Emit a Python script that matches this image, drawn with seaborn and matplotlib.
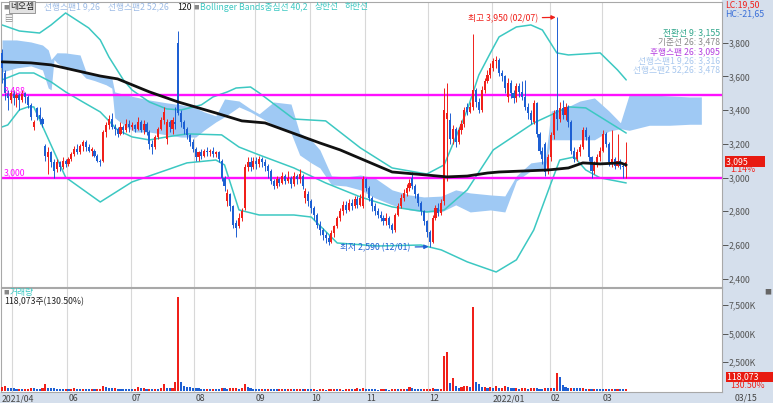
import numpy as np
import pandas as pd
import matplotlib
matplotlib.use("Agg")
import matplotlib.pyplot as plt
import matplotlib.transforms as mtrans
from matplotlib.patches import Rectangle
import seaborn as sns

### daily candles 2021/04/27 .. 2022/03/15 (one row per month)
opens = [3740, 3620, 3500, 3460,
         3500, 3470, 3490, 3460, 3500, 3480, 3430, 3300, 3410, 3370, 3350, 3190, 3120, 3150, 3090, 3050, 3090, 3060, 3100,
         3080, 3110, 3140, 3170, 3150, 3190, 3210, 3180, 3160, 3160, 3130, 3100, 3100, 3270, 3310, 3350, 3300, 3290, 3260, 3300, 3280, 3320,
         3300, 3310, 3290, 3330, 3280, 3320, 3270, 3200, 3180, 3240, 3290, 3340, 3230, 3330, 3290, 3330, 3800, 3380, 3330, 3290, 3250, 3210,
         3170, 3120, 3150, 3130, 3160, 3150, 3160, 3140, 3150, 3100, 3000, 2860, 2900, 2830, 2730, 2710, 2760, 2820, 3060, 3090, 3060,
         3100, 3080, 3110, 3090, 3070, 3040, 2980, 2950, 2990, 2970, 3010, 2980, 3000, 2960, 3010, 2990, 3010, 2880, 2900,
         2860, 2820, 2780, 2720, 2690, 2660, 2640, 2620, 2670, 2710, 2760, 2800, 2840, 2810, 2850, 2830, 2870, 2840, 2830,
         2990, 2940, 2880, 2830, 2800, 2780, 2760, 2740, 2760, 2720, 2690, 2780, 2830, 2880, 2910, 2940, 3000, 2950, 2900, 2850, 2800, 2740,
         2680, 2620, 2760, 2820, 2790, 2860, 3350, 3340, 3230, 3290, 3210, 3280, 3320, 3420, 3390, 3420, 3520, 3450, 3400, 3520, 3570, 3610,
         3650, 3690, 3700, 3620, 3600, 3480, 3560, 3500, 3470, 3540, 3510, 3480, 3420, 3380, 3330, 3440, 3260, 3160, 3200, 3040,
         3120, 3250, 3400, 3350, 3410, 3370, 3420, 3330, 3160, 3110, 3150, 3180, 3280, 3240, 3120, 3040, 3080, 3120,
         3160, 3260, 3200, 3080, 3110, 3070, 3100, 3070, 3060]
closes = [3650, 3500, 3470, 3500,
          3470, 3490, 3460, 3500, 3480, 3430, 3360, 3330, 3360, 3350, 3320, 3130, 3150, 3090, 3040, 3090, 3060, 3100, 3080,
          3110, 3140, 3170, 3150, 3190, 3210, 3180, 3160, 3170, 3130, 3100, 3090, 3270, 3310, 3350, 3300, 3290, 3260, 3300, 3280, 3320, 3300,
          3310, 3290, 3330, 3280, 3320, 3270, 3200, 3180, 3240, 3290, 3340, 3390, 3330, 3300, 3340, 3320, 3380, 3330, 3290, 3250, 3210, 3170,
          3120, 3150, 3130, 3160, 3150, 3160, 3140, 3150, 3110, 3000, 2950, 2910, 2830, 2720, 2700, 2760, 2800, 3060, 3090, 3060, 3100,
          3080, 3110, 3090, 3070, 3040, 2980, 2950, 2990, 2970, 3010, 2980, 3000, 2960, 3010, 2990, 3020, 2950, 2920, 2860,
          2820, 2780, 2720, 2690, 2660, 2640, 2620, 2670, 2710, 2760, 2800, 2840, 2810, 2850, 2830, 2870, 2840, 2880, 2990,
          2940, 2880, 2830, 2800, 2780, 2760, 2740, 2760, 2720, 2690, 2780, 2830, 2880, 2910, 2940, 2970, 2950, 2900, 2850, 2800, 2740, 2680,
          2620, 2760, 2820, 2790, 2850, 3400, 3380, 3230, 3290, 3210, 3280, 3320, 3400, 3390, 3420, 3520, 3450, 3400, 3520, 3570, 3610, 3650,
          3690, 3700, 3620, 3600, 3530, 3560, 3500, 3470, 3540, 3510, 3480, 3420, 3380, 3340, 3440, 3260, 3160, 3110, 3030, 3120,
          3250, 3380, 3350, 3410, 3370, 3420, 3330, 3160, 3110, 3150, 3180, 3280, 3240, 3120, 3040, 3080, 3120, 3160,
          3260, 3200, 3090, 3110, 3070, 3100, 3070, 3060, 3095]
highs = [3760, 3640, 3520, 3520,
         3520, 3510, 3500, 3520, 3510, 3490, 3440, 3340, 3420, 3420, 3360, 3200, 3180, 3160, 3110, 3110, 3100, 3120, 3110,
         3120, 3150, 3190, 3200, 3200, 3220, 3220, 3200, 3180, 3170, 3140, 3110, 3280, 3330, 3370, 3380, 3320, 3300, 3330, 3310, 3350, 3340,
         3330, 3320, 3360, 3340, 3340, 3330, 3280, 3220, 3250, 3300, 3360, 3420, 3350, 3340, 3360, 3420, 3870, 3400, 3340, 3300, 3260, 3230,
         3180, 3160, 3170, 3170, 3180, 3170, 3180, 3160, 3160, 3110, 3010, 2930, 2910, 2840, 2750, 2790, 2820, 3080, 3120, 3120, 3120,
         3120, 3130, 3120, 3110, 3080, 3050, 2990, 3010, 3000, 3030, 3020, 3040, 3010, 3030, 3020, 3050, 3020, 2940, 2920,
         2870, 2830, 2790, 2740, 2700, 2680, 2660, 2690, 2720, 2770, 2820, 2860, 2860, 2870, 2870, 2890, 2890, 2900, 3010,
         3000, 2950, 2890, 2850, 2820, 2800, 2780, 2790, 2770, 2730, 2790, 2850, 2900, 2930, 2960, 2990, 3035, 2960, 2910, 2860, 2810, 2750,
         2690, 2780, 2840, 2850, 2870, 3530, 3560, 3380, 3310, 3300, 3300, 3340, 3420, 3440, 3450, 3850, 3530, 3470, 3540, 3590, 3640, 3680,
         3710, 3720, 3710, 3640, 3610, 3590, 3580, 3520, 3560, 3560, 3570, 3580, 3440, 3400, 3460, 3450, 3270, 3180, 3210, 3140,
         3270, 3400, 3950, 3450, 3460, 3440, 3430, 3340, 3180, 3170, 3200, 3300, 3300, 3250, 3130, 3100, 3140, 3180,
         3280, 3270, 3210, 3280, 3120, 3260, 3110, 3080, 3210]
lows = [3560, 3460, 3400, 3440,
        3430, 3420, 3400, 3450, 3440, 3410, 3340, 3280, 3340, 3320, 3300, 3100, 3020, 3060, 3000, 3030, 3040, 3050, 3060,
        3070, 3100, 3130, 3140, 3140, 3160, 3160, 3150, 3130, 3120, 3090, 3070, 3090, 3240, 3290, 3290, 3250, 3240, 3250, 3260, 3270, 3270,
        3280, 3270, 3280, 3270, 3260, 3250, 3170, 3140, 3170, 3230, 3280, 3320, 3200, 3270, 3260, 3290, 3370, 3300, 3260, 3230, 3190, 3150,
        3100, 3100, 3110, 3120, 3130, 3130, 3120, 3120, 3090, 2980, 2920, 2830, 2800, 2700, 2650, 2700, 2740, 2810, 3040, 3040, 3050,
        3050, 3060, 3060, 3040, 3000, 2960, 2930, 2940, 2950, 2960, 2960, 2970, 2940, 2950, 2960, 2970, 2930, 2850, 2830,
        2790, 2750, 2700, 2660, 2630, 2610, 2600, 2610, 2650, 2700, 2740, 2780, 2790, 2800, 2810, 2820, 2820, 2830, 2820,
        2920, 2860, 2800, 2780, 2760, 2740, 2720, 2720, 2700, 2670, 2680, 2770, 2820, 2860, 2890, 2920, 2930, 2880, 2830, 2780, 2720, 2650,
        2590, 2610, 2750, 2770, 2780, 2840, 2980, 3200, 3200, 3180, 3200, 3260, 3300, 3370, 3380, 3400, 3420, 3380, 3390, 3500, 3560, 3590,
        3630, 3650, 3600, 3570, 3500, 3450, 3470, 3440, 3450, 3480, 3460, 3400, 3350, 3320, 3320, 3240, 3140, 3080, 3010, 3020,
        3100, 3230, 3280, 3330, 3350, 3340, 3300, 3140, 3090, 3100, 3130, 3170, 3220, 3100, 3000, 3020, 3060, 3100,
        3150, 3180, 3070, 3060, 3050, 3060, 3050, 3000, 3000]
volumes_k = [350, 420, 250, 200,
             180, 150, 160, 140, 150, 170, 200, 180, 160, 150, 200, 560, 260, 200, 180, 170, 150, 140, 150,
             130, 150, 200, 160, 140, 170, 150, 130, 140, 120, 130, 160, 420, 300, 250, 180, 200, 170, 150, 140, 130, 120,
             110, 130, 280, 200, 230, 150, 160, 150, 150, 130, 180, 560, 200, 180, 250, 750, 8200, 720, 420, 330, 280, 250,
             220, 200, 170, 150, 160, 140, 160, 150, 130, 240, 200, 150, 180, 200, 260, 170, 200, 570, 300, 200, 170,
             140, 120, 130, 110, 150, 130, 120, 100, 110, 120, 90, 100, 110, 90, 100, 120, 110, 130, 120,
             90, 100, 80, 90, 100, 80, 90, 100, 110, 90, 100, 80, 90, 100, 90, 110, 180, 100, 200,
             150, 120, 100, 90, 80, 90, 100, 90, 80, 90, 150, 120, 130, 140, 120, 270, 180, 130, 110, 100, 120, 130,
             150, 200, 140, 110, 160, 3030, 3380, 660, 1100, 360, 250, 300, 360, 420, 270, 7320, 750, 560, 300, 300, 180, 270,
             200, 360, 200, 250, 420, 300, 200, 180, 200, 150, 180, 200, 150, 180, 200, 180, 170, 150, 200, 180,
             200, 180, 1530, 1180, 480, 300, 250, 250, 230, 200, 180, 200, 160, 170, 150, 160, 150, 140,
             130, 140, 130, 150, 120, 130, 120, 110, 118.073]
volume_ratio_pct = 130.50

krx_holidays = ["2021-05-05", "2021-05-19", "2021-08-16", "2021-09-20", "2021-09-21", "2021-09-22",
                "2021-10-04", "2021-10-11", "2021-12-31", "2022-01-31", "2022-02-01", "2022-02-02",
                "2022-03-01", "2022-03-09"]

### indicator lines (day index, value)
ma120_idx = [0, 10, 17, 34, 40, 51, 61, 74, 83, 91, 110, 117, 135, 147, 154, 161, 168, 172, 189, 196, 201, 207, 214, 216]
ma120 = [3686, 3680, 3668, 3602, 3585, 3508, 3448, 3383, 3336, 3324, 3205, 3164, 3033, 3015, 3004, 3009, 3027, 3033,
         3045, 3057, 3087, 3081, 3087, 3075]

bb_up_idx = [0, 6, 13, 17, 22, 30, 34, 37, 42, 45, 51, 57, 62, 69, 73, 78, 81, 86, 89, 101, 112, 124, 135, 147, 153,
             161, 165, 169, 172, 178, 183, 187, 192, 196, 207, 213, 216]
bb_up = [3905, 3869, 3857, 3905, 3976, 3887, 3816, 3715, 3579, 3519, 3448, 3407, 3401, 3431, 3478, 3508, 3531, 3537,
         3502, 3347, 3336, 3176, 3057, 3021, 3075, 3401, 3608, 3739, 3834, 3893, 3905, 3875, 3739, 3727, 3739, 3638, 3579]
bb_mid_idx = [0, 6, 11, 17, 22, 28, 34, 40, 45, 51, 57, 64, 76, 82, 89, 101, 112, 124, 135, 147, 153, 161, 170, 184,
              196, 202, 216]
bb_mid = [3579, 3620, 3620, 3567, 3508, 3448, 3389, 3282, 3241, 3223, 3241, 3259, 3253, 3181, 3134, 3057, 2968, 2885,
          2826, 2796, 2808, 2927, 3164, 3324, 3419, 3413, 3264]
bb_low_idx = [0, 2, 6, 9, 11, 22, 34, 45, 57, 64, 74, 77, 82, 89, 101, 107, 116, 130, 145, 152, 161, 171, 178, 184,
              190, 193, 198, 202, 207, 216]
bb_low = [3300, 3312, 3401, 3419, 3419, 3002, 2855, 2974, 3045, 3087, 3104, 3075, 2808, 2778, 2778, 2766, 2612, 2594,
          2600, 2571, 2500, 2440, 2512, 2689, 2968, 3104, 3122, 3045, 2998, 2968]

### ichimoku cloud edges (leading spans shifted 26 days)
cloud_idx = [0, 5, 10, 14, 16, 17, 18, 19, 22, 27, 29, 32, 36, 38, 39, 43, 46, 51, 57, 62, 67, 70, 74, 77, 82, 86, 89,
             94, 100, 103, 107, 110, 114, 119, 124, 129, 135, 141, 146, 152, 157, 162, 169, 174, 178, 183, 188, 190,
             195, 200, 205, 210, 214, 217, 224, 231, 238, 242]
cloud_top = [3816, 3816, 3804, 3786, 3757, 3700, 3720, 3740, 3739, 3727, 3630, 3610, 3600, 3590, 3508, 3490, 3478,
             3460, 3443, 3431, 3413, 3389, 3366, 3466, 3454, 3407, 3378, 3448, 3436, 3264, 3223, 3164, 3010, 3004,
             3015, 2998, 2927, 2897, 2885, 2890, 2927, 2909, 2897, 2891, 3010, 3087, 3099, 3395, 3413, 3454, 3472,
             3395, 3325, 3490, 3490, 3484, 3478, 3478]
cloud_bot = [3626, 3650, 3662, 3638, 3531, 3520, 3700, 3680, 3650, 3626, 3590, 3575, 3550, 3530, 3355, 3300, 3270,
             3270, 3253, 3240, 3240, 3282, 3330, 3360, 3419, 3389, 3360, 3312, 3264, 3134, 3087, 3057, 2957, 2950,
             2927, 2880, 2838, 2808, 2796, 2796, 2838, 2796, 2808, 2796, 2980, 3040, 3057, 3224, 3224, 3224, 3224,
             3275, 3290, 3280, 3310, 3310, 3316, 3316]

support_levels = [3488, 3000]
price_ticks = [2400, 2600, 2800, 3000, 3200, 3400, 3600, 3800]
vol_ticks_k = [2500, 5000, 7500]

RED = "#f0201a"
BLUE = "#1d5fd3"
TEAL = "#3cc8c2"
MAGENTA = "#ff10ff"
STRIP = "#d5dfec"

sns.set_style("white")
plt.rcParams["font.family"] = ["Noto Sans CJK KR", "DejaVu Sans"]
plt.rcParams["axes.unicode_minus"] = False
FS = 6.3

days = pd.bdate_range("2021-04-27", "2022-03-15")
days = days[~days.isin(pd.to_datetime(krx_holidays))]
n = len(closes)
x = np.arange(n)
o = np.array(opens, float); c = np.array(closes, float)
hi = np.array(highs, float); lo = np.array(lows, float)
vol = np.array(volumes_k, float)

W, H = 773, 403
fig = plt.figure(figsize=(W / 100, H / 100), dpi=100)


def box(l, t, r, b):
    return [l / W, 1 - b / H, (r - l) / W, (b - t) / H]


# grey-blue scale strips behind everything
fig.patches.append(Rectangle((722 / W, 0), 1 - 722 / W, 1, transform=fig.transFigure, color=STRIP, zorder=-5))
fig.patches.append(Rectangle((0, 0), 1, 11 / H, transform=fig.transFigure, color=STRIP, zorder=-5))

ax = fig.add_axes(box(1, 2, 722, 287))
axv = fig.add_axes(box(1, 288, 722, 392))
xlim = (-0.35, 249.15)
for a in (ax, axv):
    a.set_xlim(*xlim)
    a.set_facecolor("white")
    for s in a.spines.values():
        s.set_color("#a8a8a8")
        s.set_linewidth(0.8)

# month gridlines
month_pos = [i for i in range(1, n) if days[i].month != days[i - 1].month]
month_lab = [days[i].strftime("%Y/%m") if days[i].month == 1 else days[i].strftime("%m") for i in month_pos]
for a in (ax, axv):
    for m in month_pos:
        a.axvline(m - 0.5, color="#d8d8d8", lw=0.8, zorder=0.5)

# price panel
ax.set_ylim(2351, 4041)
ax.fill_between(cloud_idx, cloud_top, cloud_bot, color="#9fc9f4", lw=0, zorder=1)
for ix, vals in ((bb_up_idx, bb_up), (bb_mid_idx, bb_mid), (bb_low_idx, bb_low)):
    sns.lineplot(x=ix, y=vals, ax=ax, color=TEAL, linewidth=1.1, zorder=2)
for lvl in support_levels:
    ax.axhline(lvl, color=MAGENTA, lw=1.7, zorder=2.5)

col = np.where(c >= o, RED, BLUE)
ax.vlines(x, lo, hi, colors=col, lw=0.7, zorder=3)
ax.bar(x, np.maximum(np.abs(c - o), 6), bottom=np.minimum(o, c), width=0.72, color=col, lw=0, zorder=4)
sns.lineplot(x=ma120_idx, y=ma120, ax=ax, color="#111111", linewidth=2.0, zorder=5)

ax.yaxis.tick_right()
ax.set_yticks(price_ticks)
ax.set_yticklabels([f"{t:,}" for t in price_ticks])
ax.tick_params(axis="y", direction="out", length=4, width=0.7, pad=1, labelsize=FS, colors="#555555")
ax.tick_params(axis="x", bottom=False, labelbottom=False)
ax.set_xlabel(""); ax.set_ylabel("")

yblend = mtrans.blended_transform_factory(ax.transAxes, ax.transData)
for lvl in support_levels:
    ax.text(0.004, lvl, f"{lvl:,}", transform=yblend, color=MAGENTA, fontsize=FS, va="bottom", ha="left", zorder=6)

imax = int(np.argmax(hi)); imin = int(np.argmin(lo))
ax.annotate(f"최고 {hi[imax]:,.0f} ({days[imax]:%m/%d})", xy=(imax - 0.4, hi[imax]), xytext=(-18, -1),
            textcoords="offset pixels", ha="right", va="center", color=RED, fontsize=FS,
            arrowprops=dict(arrowstyle="-|>", color=RED, lw=0.9, mutation_scale=6, shrinkA=1, shrinkB=0))
ax.annotate(f"최저 {lo[imin]:,.0f} ({days[imin]:%m/%d})", xy=(imin - 0.4, lo[imin]), xytext=(-18, -1),
            textcoords="offset pixels", ha="right", va="center", color=BLUE, fontsize=FS,
            arrowprops=dict(arrowstyle="-|>", color=BLUE, lw=0.9, mutation_scale=6, shrinkA=1, shrinkB=0))

# last price tag
chg = (c[-1] / c[-2] - 1) * 100
ax.text(1.006, c[-1], f"{c[-1]:,.0f}        ", transform=yblend, color="white", fontsize=FS, va="center",
        ha="left", clip_on=False, bbox=dict(fc="#e81a10", ec="none", pad=0.6))
ax.annotate(f"{chg:.2f}%", xy=(1.012, c[-1]), xycoords=yblend, xytext=(0, -8), textcoords="offset pixels",
            color=RED, fontsize=FS, va="center", ha="left", annotation_clip=False)

# volume panel
axv.set_ylim(-130, 8990)
vcol = [RED] + [RED if vol[i] >= vol[i - 1] else BLUE for i in range(1, n)]
axv.bar(x, vol, width=0.72, color=vcol, lw=0, zorder=3)
axv.yaxis.tick_right()
axv.set_yticks(vol_ticks_k)
axv.set_yticklabels([f"{t:,}K" for t in vol_ticks_k])
axv.tick_params(axis="y", direction="out", length=4, width=0.7, pad=1, labelsize=FS, colors="#555555")
axv.set_xticks([m - 0.5 for m in month_pos])
axv.tick_params(axis="x", direction="out", length=11, width=0.8, color="#9a9a9a", labelbottom=False)
xblend = mtrans.blended_transform_factory(axv.transData, axv.transAxes)
axv.text(-0.1, -0.02, days[0].strftime("%Y/%m"), transform=xblend, fontsize=FS, color="#444444", va="top", ha="left")
for m, lab in zip(month_pos, month_lab):
    if m < 12:   # label too close to the first one is skipped, as in the source chart
        continue
    axv.text(m - 0.1, -0.02, lab, transform=xblend, fontsize=FS, color="#444444", va="top", ha="left")


def ftxt(xp, yp, s, **kw):
    kw.setdefault("fontsize", FS)
    fig.text(xp / W, 1 - yp / H, s, va="center", **kw)


# header legend
ftxt(3, 7, "■", color="#888888", fontsize=4)
ftxt(10, 7, "네오셈", color="#222222", bbox=dict(fc="#e2e2e2", ec="#8a8a8a", pad=0.8, lw=0.6))
ftxt(44, 7, "선행스팬1 9,26", color="#9cbbe6")
ftxt(108, 7, "선행스팬2 52,26", color="#9cbbe6")
ftxt(177, 7, "120", color="#111111")
ftxt(193, 7, "■", color="#888888", fontsize=4)
ftxt(200, 7, "Bollinger Bands중심선 40,2", color=TEAL)
ftxt(315, 7, "상한선", color=TEAL)
ftxt(345, 7, "하한선", color=TEAL)
ftxt(4, 18, "▤", color="#888888", fontsize=6)

# indicator readout
ftxt(720, 33, "전환선 9: 3,155", color="#2fa58a", ha="right")
ftxt(720, 42, "기준선 26: 3,478", color="#8a8a8a", ha="right")
ftxt(720, 52, "후행스팬 26: 3,095", color="#b43ee0", ha="right")
ftxt(720, 61, "선행스팬1 9,26: 3,316", color="#a9c8ee", ha="right")
ftxt(720, 70, "선행스팬2 52,26: 3,478", color="#a9c8ee", ha="right")

ftxt(725, 5, "LC:19,50", color=RED)
ftxt(725, 14, "HC:-21,65", color="#3a6fd8")

# volume readout
last_vol = vol[-1] * 1000
ftxt(3, 292, "■", color="#888888", fontsize=4)
ftxt(10, 292, "거래량", color=TEAL)
ftxt(4, 302, f"{last_vol:,.0f}주({volume_ratio_pct:.2f}%)", color="#222222")
ftxt(764, 292, "■", color="#666666", fontsize=5)
ftxt(727, 377, f"{last_vol:,.0f}       ", color="white", bbox=dict(fc="#e81a10", ec="none", pad=0.6))
ftxt(730, 386, f"{volume_ratio_pct:.2f}%", color=RED)
ftxt(735, 398, f"{days[-1]:%m/%d}", color="#444444")

fig.savefig("out.png", dpi=100)
